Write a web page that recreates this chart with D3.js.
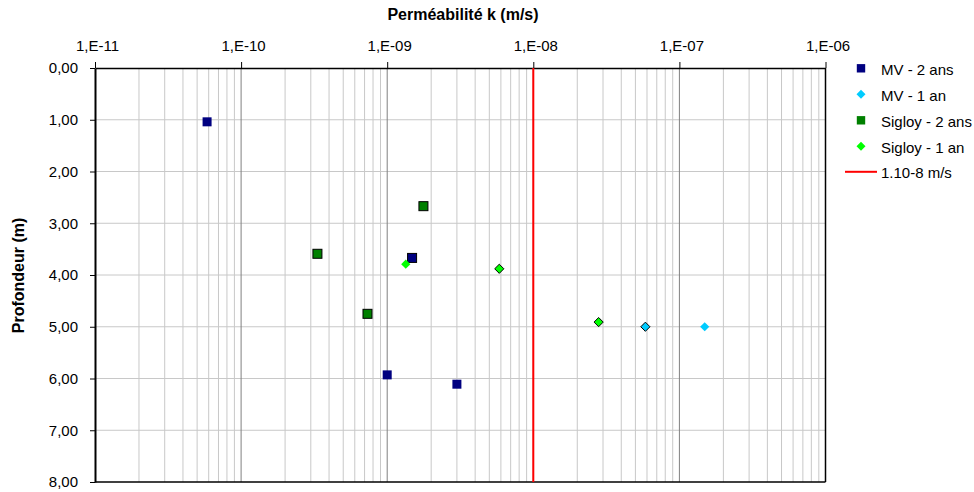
<!DOCTYPE html>
<html><head><meta charset="utf-8">
<script src="https://cdn.jsdelivr.net/npm/d3@7"></script>
<style>body{margin:0;background:#fff;} svg{display:block;font-family:"Liberation Sans",Arial,sans-serif;}</style>
</head><body>
<svg id="c" width="974" height="492"></svg>
<script>
// Data
const seriesNames = ["MV - 2 ans", "MV - 1 an", "Sigloy - 2 ans", "Sigloy - 1 an"];
const mv2_k = [5.85e-11, 1.48e-9, 1.0e-9, 3.0e-9];
const mv2_d = [1.04, 3.67, 5.93, 6.11];
const mv1_k = [5.85e-8, 1.49e-7];
const mv1_d = [5.0, 5.0];
const sig2_k = [1.77e-9, 3.33e-10, 7.33e-10];
const sig2_d = [2.67, 3.59, 4.75];
const sig1_k = [1.34e-9, 5.85e-9, 2.8e-8];
const sig1_d = [3.79, 3.88, 4.91];
const limitK = 1e-8;
const limitLabel = "1.10-8 m/s";
const xTickLabels = ["1,E-11", "1,E-10", "1,E-09", "1,E-08", "1,E-07", "1,E-06"];
const yTicks = [0,1,2,3,4,5,6,7,8];
// which points are drawn with a black outline (series index -> point indices)
const outlined = {0:[1], 1:[0], 2:[0,1,2], 3:[1,2]};

const FONT = "Liberation Sans, Arial, sans-serif";
const svg = d3.select("#c");
const L=95, R=825.5, T=68, B=482;
const x = d3.scaleLog().domain([1e-11,1e-6]).range([L,R]);
const y = d3.scaleLinear().domain([0,8]).range([T,B]);

// grid: minor vertical
const minor = [];
for (let e=-11; e<-6; e++) for (let m=2; m<=9; m++) minor.push(m*Math.pow(10,e));
svg.append("g").selectAll("line").data(minor).join("line")
  .attr("x1",d=>x(d)).attr("x2",d=>x(d)).attr("y1",T).attr("y2",B)
  .attr("stroke","#c8c8c8").attr("stroke-width",1);
// horizontal grid
svg.append("g").selectAll("line").data(yTicks.slice(1,-1)).join("line")
  .attr("x1",L).attr("x2",R).attr("y1",d=>y(d)).attr("y2",d=>y(d))
  .attr("stroke","#c8c8c8").attr("stroke-width",1);
// major vertical
const majors = [1e-11,1e-10,1e-9,1e-8,1e-7,1e-6];
svg.append("g").selectAll("line").data(majors.slice(1,-1)).join("line")
  .attr("x1",d=>x(d)).attr("x2",d=>x(d)).attr("y1",T).attr("y2",B)
  .attr("stroke","#808080").attr("stroke-width",1);

// frame
svg.append("line").attr("x1",R).attr("x2",R).attr("y1",T).attr("y2",B).attr("stroke","#000").attr("stroke-width",1.5);
svg.append("line").attr("x1",L).attr("x2",R).attr("y1",B).attr("y2",B).attr("stroke","#000").attr("stroke-width",1.5);

// top axis
const xAxis = d3.axisTop(x).tickValues(majors).tickSize(6).tickSizeOuter(0)
  .tickFormat((d,i)=>xTickLabels[i]);
const gx = svg.append("g").attr("transform",`translate(0,${T})`).call(xAxis);
gx.select(".domain").attr("stroke","#000").attr("stroke-width",1.5);
gx.selectAll(".tick line").attr("stroke","#000");
gx.selectAll("text").attr("font-size",15).attr("fill","#000").attr("font-family",FONT)
  .attr("y",-17).attr("dy","0").attr("dx","2");

// left axis
const yAxis = d3.axisLeft(y).tickValues(yTicks).tickSize(5).tickSizeOuter(0)
  .tickFormat(d=>d3.format(".2f")(d).replace(".",","));
const gy = svg.append("g").attr("transform",`translate(${L},0)`).call(yAxis);
gy.select(".domain").attr("stroke","#000").attr("stroke-width",2);
gy.selectAll(".tick line").attr("stroke","#000");
gy.selectAll("text").attr("font-size",15).attr("fill","#000").attr("font-family",FONT).attr("x",-17);

// limit line
svg.append("line").attr("x1",x(limitK)).attr("x2",x(limitK)).attr("y1",T).attr("y2",B)
  .attr("stroke","#ff0000").attr("stroke-width",2);

// titles
svg.append("text").attr("x",463).attr("y",20).attr("text-anchor","middle")
  .attr("font-size",16).attr("font-weight","bold").text("Perméabilité k (m/s)");
svg.append("text").attr("transform","translate(24,275.5) rotate(-90)").attr("text-anchor","middle")
  .attr("font-size",16).attr("font-weight","bold").text("Profondeur (m)");

// series
const series = [
  {k:mv2_k, d:mv2_d, color:"#000080", shape:"square"},
  {k:mv1_k, d:mv1_d, color:"#00ccff", shape:"diamond"},
  {k:sig2_k, d:sig2_d, color:"#008000", shape:"square"},
  {k:sig1_k, d:sig1_d, color:"#00ff00", shape:"diamond"}
];
function drawMarker(g, shape, cx, cy, color, stroke){
  if (shape==="square"){
    g.append("rect").attr("x",cx-4.5).attr("y",cy-4.5).attr("width",9).attr("height",9)
      .attr("fill",color).attr("stroke",stroke?"#000":"none").attr("stroke-width",1);
  } else {
    const s=4.6;
    g.append("path").attr("d",`M${cx},${cy-s}L${cx+s},${cy}L${cx},${cy+s}L${cx-s},${cy}Z`)
      .attr("fill",color).attr("stroke",stroke?"#000":"none").attr("stroke-width",1);
  }
}
const gp = svg.append("g");
series.forEach((s,si)=>{
  s.k.forEach((kv,i)=>{
    drawMarker(gp, s.shape, x(kv), y(s.d[i]), s.color, outlined[si].includes(i));
  });
});

// legend
const lg = svg.append("g");
const ly0 = 68.3, ldy = 26, lmx = 861;
series.forEach((s,i)=>{
  const yy = ly0 + i*ldy;
  if (s.shape==="square") lg.append("rect").attr("x",lmx-4.2).attr("y",yy-4.2).attr("width",8.4).attr("height",8.4).attr("fill",s.color);
  else lg.append("path").attr("d",`M${lmx},${yy-4.5}L${lmx+4.5},${yy}L${lmx},${yy+4.5}L${lmx-4.5},${yy}Z`).attr("fill",s.color);
  lg.append("text").attr("x",881).attr("y",yy+6.5).attr("font-size",15).text(seriesNames[i]);
});
const lyL = ly0 + 4*ldy - 0.5;
lg.append("line").attr("x1",845).attr("x2",877).attr("y1",lyL).attr("y2",lyL).attr("stroke","#ff0000").attr("stroke-width",2);
lg.append("text").attr("x",881).attr("y",lyL+6.5).attr("font-size",15).text(limitLabel);
</script>
</body></html>
